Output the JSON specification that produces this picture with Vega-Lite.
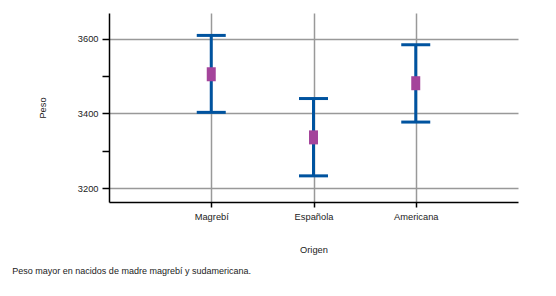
{
  "$schema": "https://vega.github.io/schema/vega-lite/v6.json",
  "width": 409,
  "height": 189,
  "autosize": {"type": "none"},
  "padding": {"left": 109, "top": 13, "right": 38, "bottom": 94},
  "background": "white",
  "config": {
    "font": "Liberation Sans",
    "view": {"stroke": null},
    "axis": {"labelFont": "Liberation Sans", "titleFont": "Liberation Sans", "labelColor": "#222", "titleColor": "#222", "titleFontWeight": "normal", "labelFontSize": 9.3, "titleFontSize": 9.3, "domainColor": "#000", "tickColor": "#000", "domainWidth": 1.5, "tickWidth": 1.5, "gridColor": "#999", "gridWidth": 1.5}
  },
  "title": {"text": "Peso mayor en nacidos de madre magrebí y sudamericana.", "orient": "bottom", "anchor": "start", "frame": "bounds", "fontSize": 9, "fontWeight": "normal", "color": "#222", "font": "Liberation Sans", "offset": 12, "dx": -26},
  "data": {"values": [
    {"origen": "Magrebí", "media": 3505, "lo": 3403, "hi": 3609},
    {"origen": "Española", "media": 3336, "lo": 3233, "hi": 3440},
    {"origen": "Americana", "media": 3481, "lo": 3377, "hi": 3584}
  ]},
  "encoding": {
    "x": {"field": "origen", "type": "nominal", "sort": null, "scale": {"type": "point", "padding": 1},
      "axis": {"title": "Origen", "labelAngle": 0, "grid": true, "tickSize": 5, "labelPadding": 5, "titlePadding": 24}}
  },
  "layer": [
    {"mark": {"type": "rule", "color": "#00539f", "strokeWidth": 3},
     "encoding": {
       "y": {"field": "lo", "type": "quantitative", "scale": {"domain": [3163, 3669], "nice": false, "zero": false},
         "axis": {"title": "Peso", "values": [3200, 3300, 3400, 3500, 3600], "labelExpr": "datum.value % 200 === 0 ? datum.label : ''", "format": "d", "tickSize": 7, "labelPadding": 4, "titlePadding": 30,
           "gridOpacity": {"condition": {"test": "datum.value % 200 === 0", "value": 1}, "value": 0}}},
       "y2": {"field": "hi"}
     }},
    {"mark": {"type": "tick", "color": "#00539f", "thickness": 3, "size": 29, "orient": "horizontal", "opacity": 1},
     "encoding": {"y": {"field": "lo", "type": "quantitative"}}},
    {"mark": {"type": "tick", "color": "#00539f", "thickness": 3, "size": 29, "orient": "horizontal", "opacity": 1},
     "encoding": {"y": {"field": "hi", "type": "quantitative"}}},
    {"mark": {"type": "tick", "color": "#a4449b", "thickness": 9, "size": 14, "orient": "vertical", "opacity": 1},
     "encoding": {"y": {"field": "media", "type": "quantitative"}}}
  ]
}
